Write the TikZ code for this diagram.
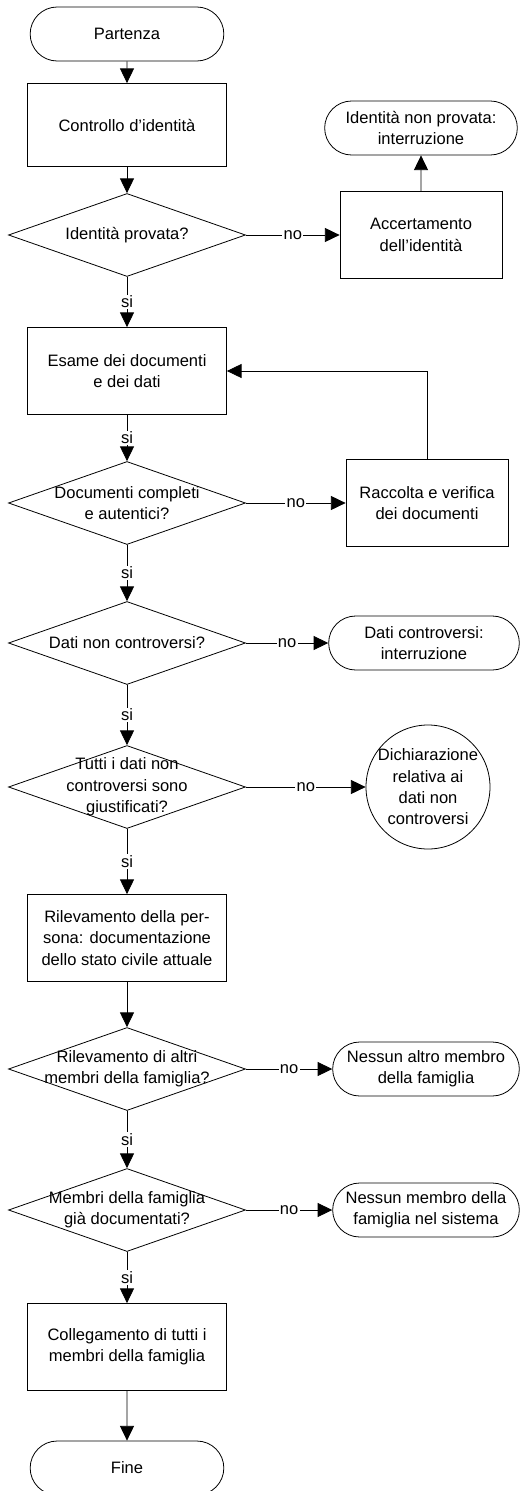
\documentclass[tikz,border=0pt]{standalone}
\usepackage{fontspec}
\setmainfont{Liberation Sans}
\usepackage{tikz}
\usetikzlibrary{positioning}
\usetikzlibrary{shapes.geometric}
\usetikzlibrary{shapes.misc}
\usetikzlibrary{arrows.meta}

\begin{document}
\begin{tikzpicture}[node distance=70pt,on grid,line width=0.6pt,>={Triangle[length=11pt,width=10.5pt]},
        every node/.style={font=\fontsize{12.4}{16}\selectfont},
        term/.style={draw,rounded rectangle,minimum width=149.25pt,minimum height=40.5pt,inner sep=2pt,align=center},
        box/.style={draw,rectangle,minimum width=149.25pt,minimum height=65.25pt,align=center},
        sidebox/.style={box,minimum width=121.5pt},
        decision/.style={draw,diamond,minimum width=177.75pt,minimum height=62.25pt,inner sep=0pt},
        el/.style={fill=white,inner sep=1pt}]

        \useasboundingbox (0,0) rectangle (393.75pt,-1118.25pt);

        % main column
        \node[term] (start) at (95.25pt,-25.5pt) {Partenza};
        \node[box,minimum height=62.25pt] (ctrl) [below=68.25pt of start] {Controllo d’identità};
        \node[decision,label={[align=center]center:Identità provata?}] (d1) [below=82.5pt of ctrl] {};
        \node[box] (esame) [below=102pt of d1] {Esame dei documenti\\e dei dati};
        \node[decision,label={[align=center]center:Documenti completi\\e autentici?}] (d2) [below=99pt of esame] {};
        \node[decision,label={[align=center]center:Dati non controversi?}] (d3) [below=105pt of d2] {};
        \node[decision,label={[align=center]center:Tutti i dati non\\controversi sono\\giustificati?}] (d4) [below=108pt of d3] {};
        \node[box] (rilev) [below=113.25pt of d4] {Rilevamento della per-\\sona: documentazione\\dello stato civile attuale};
        \node[decision,label={[align=center]center:Rilevamento di altri\\membri della famiglia?}] (d5) [below=98.25pt of rilev] {};
        \node[decision,label={[align=center]center:Membri della famiglia\\già documentati?}] (d6) [below=105.75pt of d5] {};
        \node[box] (coll) [below=102.75pt of d6] {Collegamento di tutti i\\membri della famiglia};
        \node[term] (fine) [below=90.75pt of coll] {Fine};

        % right column
        \node[sidebox] (accert) [right=220.5pt of d1] {Accertamento\\dell’identità};
        \node[term,minimum width=148.5pt] (stopid) [above=80.25pt of accert] {Identità non provata:\\interruzione};
        \node[sidebox] (raccolta) [right=225pt of d2] {Raccolta e verifica\\dei documenti};
        \node[term,minimum width=147pt] (stopdati) [right=222.75pt of d3] {Dati controversi:\\interruzione};
        \node[draw,circle,minimum size=93pt,inner sep=0pt,
              label={[align=center]center:Dichiarazione\\relativa ai\\dati non\\controversi}] (decl) [right=225.75pt of d4] {};
        \node[term,minimum width=144pt] (nomembro) [right=224.25pt of d5] {Nessun altro membro\\della famiglia};
        \node[term,minimum width=144pt] (nosistema) [right=224.25pt of d6] {Nessun membro della\\famiglia nel sistema};

        \path[->]
          (start) edge [] node[] {} (ctrl)
          (ctrl) edge [] node[] {} (d1)
          (d1) edge [] node[el] {si} (esame)
          (d1) edge [] node[el] {no} (accert)
          (accert) edge [] node[] {} (stopid)
          (esame) edge [] node[el] {si} (d2)
          (d2) edge [] node[el] {no} (raccolta)
          (d2) edge [] node[el] {si} (d3)
          (d3) edge [] node[el] {no} (stopdati)
          (d3) edge [] node[el] {si} (d4)
          (d4) edge [] node[el] {no} (decl)
          (d4) edge [] node[el] {si} (rilev)
          (rilev) edge [] node[] {} (d5)
          (d5) edge [] node[el] {no} (nomembro)
          (d5) edge [] node[el] {si} (d6)
          (d6) edge [] node[el] {no} (nosistema)
          (d6) edge [] node[el] {si} (coll)
          (coll) edge [] node[] {} (fine);

        \draw[->] (raccolta.north) |- (esame.east);

      \end{tikzpicture}
\end{document}
